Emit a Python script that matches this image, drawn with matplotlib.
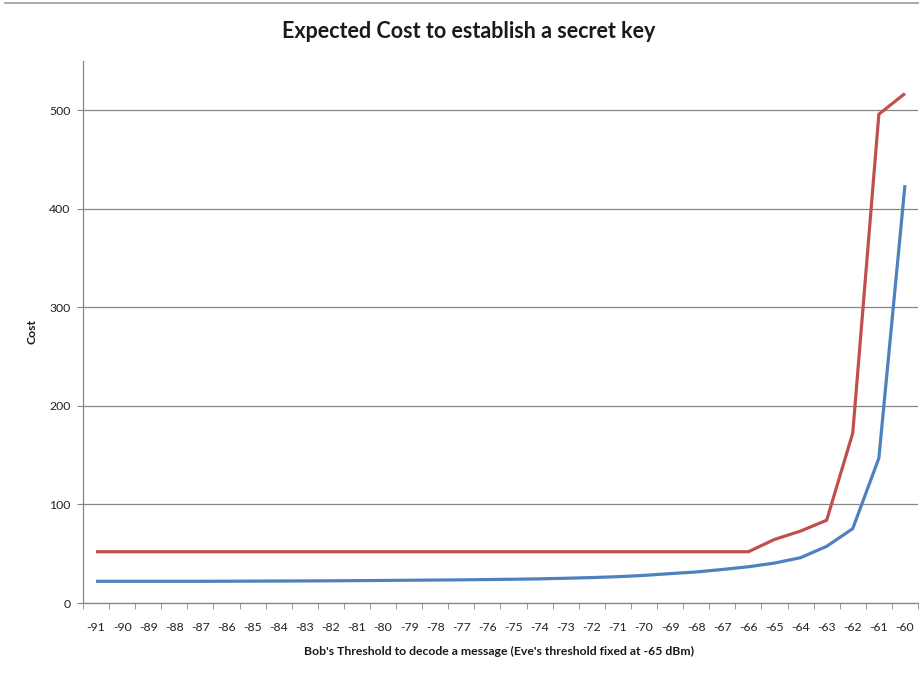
import matplotlib
matplotlib.use("Agg")
import matplotlib.pyplot as plt
import numpy as np

categories = [-91, -90, -89, -88, -87, -86, -85, -84, -83, -82, -81, -80, -79, -78, -77, -76,
              -75, -74, -73, -72, -71, -70, -69, -68, -67, -66, -65, -64, -63, -62, -61, -60]
blue_values = [22, 22, 22, 22, 22, 22.1, 22.2, 22.3, 22.4, 22.5, 22.7, 22.9, 23.1, 23.3, 23.5, 23.8,
               24.1, 24.5, 25.1, 25.8, 26.7, 28, 29.8, 31.5, 34, 36.8, 40.5, 46, 57.5, 75.5, 147, 424]
red_values = [52] * 25 + [52, 64.5, 73, 84, 172.5, 496, 517]
y_ticks = [0, 100, 200, 300, 400, 500]

FONT = ["Lato", "DejaVu Sans"]

fig = plt.figure(figsize=(9.2, 6.73), dpi=100)
ax = fig.add_axes([83/920, 1-603/673, (918-83)/920, (603-61)/673])

x = np.arange(len(categories))
ax.plot(x, red_values, color="#C0504D", lw=2.3, solid_capstyle="butt", zorder=3)
ax.plot(x, blue_values, color="#4F81BD", lw=2.3, solid_capstyle="butt", zorder=4)

ax.set_xlim(-0.5, len(categories) - 0.5)
ax.set_ylim(0, 550)
ax.set_yticks(y_ticks)
ax.set_yticklabels([str(v) for v in y_ticks], fontsize=8.8, family=FONT, color="#222222")
ax.set_xticks(x)
ax.set_xticklabels([str(c) for c in categories], fontsize=8.8, family=FONT, color="#222222")
ax.set_xticks(np.arange(-0.5, len(categories)), minor=True)
ax.tick_params(axis="x", which="major", length=0, pad=14)
ax.tick_params(axis="x", which="minor", length=4, color="#868686", direction="out")
ax.tick_params(axis="y", which="major", length=4, color="#868686", direction="out", pad=5)

ax.grid(axis="y", color="#868686", lw=0.9)
ax.set_axisbelow(True)
for s in ["top", "right"]:
    ax.spines[s].set_visible(False)
for s in ["left", "bottom"]:
    ax.spines[s].set_color("#868686")
    ax.spines[s].set_linewidth(0.9)

fig.text(469/920, 1-31/673, "Expected Cost to establish a secret key",
         ha="center", va="center", fontsize=15.5, fontweight="bold", family=FONT, color="#1a1a1a")
fig.text(499/920, 1-651/673, "Bob's Threshold to decode a message (Eve's threshold fixed at -65 dBm)",
         ha="center", va="center", fontsize=8.8, fontweight="bold", family=FONT, color="#1a1a1a")
fig.text(32/920, 1-332/673, "Cost", rotation=90, ha="center", va="center",
         fontsize=8.8, fontweight="bold", family=FONT, color="#1a1a1a")

fig.add_artist(plt.Line2D([5/920, 1], [1-3.3/673, 1-3.3/673], color="#9a9a9a", lw=1.2,
                          transform=fig.transFigure))

fig.savefig("out.png", dpi=100)
